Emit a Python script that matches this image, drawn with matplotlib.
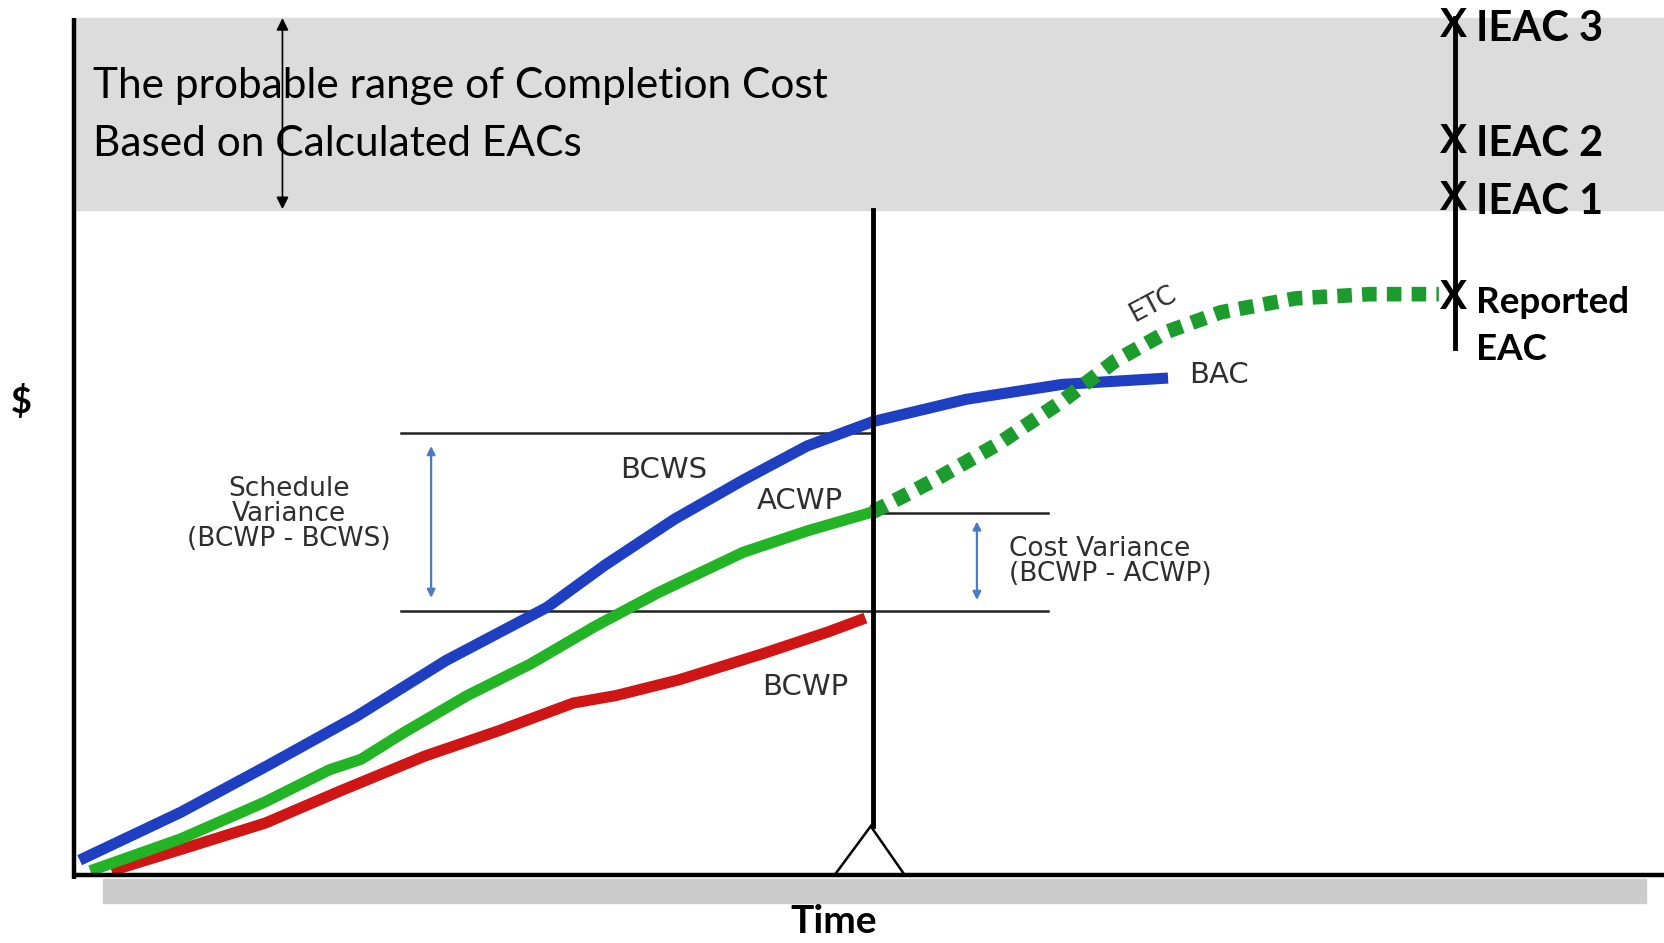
import matplotlib
matplotlib.use("Agg")
import matplotlib.pyplot as plt
from matplotlib.patches import Rectangle, Polygon

# time (x) / cost (y) units, origin at axis corner
bcws_t = [5, 100, 180, 265, 350, 445, 500, 565, 630, 690, 752, 840, 930, 1030]
bcws_c = [14, 59, 102, 149, 202, 252, 292, 335, 372, 404, 427, 448, 462, 468]

acwp_t = [15, 100, 180, 240, 270, 310, 370, 430, 490, 550, 630, 690, 752]
acwp_c = [4, 34, 69, 99, 109, 134, 169, 199, 234, 266, 304, 324, 342]

etc_t = [752, 810, 870, 930, 980, 1030, 1080, 1150, 1220, 1285]
etc_c = [342, 372, 406, 446, 484, 512, 530, 543, 547, 547]

bcwp_t = [35, 100, 180, 250, 330, 400, 470, 510, 570, 650, 710, 745]
bcwp_c = [4, 24, 49, 79, 112, 136, 162, 169, 184, 209, 229, 242]

status_t = 752
sv_hi, sv_lo, cv_hi = 416, 249, 341

eac_t = 1300
eac_labels = ["IEAC 3", "IEAC 2", "IEAC 1", "Reported\nEAC"]
eac_values = [800, 691, 637, 544]

band_lo, band_hi = 626, 807

BLUE = "#1f3fc2"
GREEN = "#22b425"
ETC_GREEN = "#1c9c2c"
RED = "#d01515"
ARROW = "#4a7cc4"
INK = "#2e2e2e"

fig = plt.figure(figsize=(16.65, 9.43), dpi=100)
ax = fig.add_axes([0, 0, 1, 1])
ax.set_xlim(-70, 1498)
ax.set_ylim(-64, 824)
ax.axis("off")

# gray range band + shadow under time axis
ax.add_patch(Rectangle((2, band_lo), 1496, band_hi - band_lo, color="#dcdcdc", zorder=0))
ax.add_patch(Rectangle((27, -26), 1453, 22, color="#cccccc", zorder=0))

# axes
ax.plot([0, 0], [band_hi, -4], color="black", lw=3.2, solid_capstyle="butt", zorder=5)
ax.plot([0, 1498], [0, 0], color="black", lw=3.2, solid_capstyle="butt", zorder=5)

# range double arrow
ax.annotate("", xy=(196, band_hi), xytext=(196, band_lo + 1),
            arrowprops=dict(arrowstyle="<|-|>", color="black", lw=1.2,
                            mutation_scale=18, shrinkA=0, shrinkB=0), zorder=6)
ax.text(18, 743, "The probable range of Completion Cost", fontsize=30.5, family="Lato",
        va="center", ha="left", color="black", zorder=6)
ax.text(18, 688, "Based on Calculated EACs", fontsize=30.5, family="Lato",
        va="center", ha="left", color="black", zorder=6)

# status date line + triangle
ax.plot([status_t, status_t], [band_lo, 46], color="black", lw=3.5, zorder=4)
ax.add_patch(Polygon([[716, 0], [status_t - 2, 46], [782, 0]], closed=False,
                     fill=False, edgecolor="black", lw=1.8, zorder=4))

# variance reference lines
ax.plot([308, status_t], [sv_hi, sv_hi], color="#222222", lw=1.8, zorder=1)
ax.plot([308, 917], [sv_lo, sv_lo], color="#222222", lw=1.8, zorder=1)
ax.plot([status_t, 917], [cv_hi, cv_hi], color="#222222", lw=1.8, zorder=1)

for t, c0, c1 in [(336, sv_hi - 12, sv_lo + 12), (850, cv_hi - 8, sv_lo + 10)]:
    ax.annotate("", xy=(t, c0), xytext=(t, c1),
                arrowprops=dict(arrowstyle="<|-|>", color=ARROW, lw=1.6,
                                mutation_scale=12, shrinkA=0, shrinkB=0), zorder=2)

# curves
ax.plot(bcwp_t, bcwp_c, color=RED, lw=8, solid_capstyle="butt", solid_joinstyle="round", zorder=3)
ax.plot(acwp_t, acwp_c, color=GREEN, lw=8, solid_capstyle="butt", solid_joinstyle="round", zorder=3)
ax.plot(bcws_t, bcws_c, color=BLUE, lw=8, solid_capstyle="butt", solid_joinstyle="round", zorder=3)
ax.plot(etc_t, etc_c, color=ETC_GREEN, lw=10.5, linestyle=(0, (1.0, 0.7)),
        dash_capstyle="butt", zorder=3)

# curve labels
lab = dict(family="DejaVu Sans", color=INK, ha="center", va="center")
ax.text(555, 381, "BCWS", fontsize=21, **lab)
ax.text(683, 352, "ACWP", fontsize=21, **lab)
ax.text(688, 177, "BCWP", fontsize=21, **lab)
ax.text(1078, 471, "BAC", fontsize=21, **lab)
ax.text(1016, 538, "ETC", fontsize=19, rotation=28, **lab)
ax.text(202, 340, "Schedule\nVariance\n(BCWP - BCWS)", fontsize=19,
        linespacing=0.95, **lab)
ax.text(880, 295, "Cost Variance\n(BCWP - ACWP)", fontsize=19, family="DejaVu Sans",
        color=INK, ha="left", va="center", linespacing=0.95)

# EAC scale
ax.plot([eac_t, eac_t], [band_hi, 496], color="black", lw=3.5, zorder=6)
for lbl, v in zip(eac_labels, eac_values):
    ax.text(eac_t - 1, v, "X", fontsize=29, family="Lato", weight="bold",
            ha="center", va="center", zorder=7)
    if "\n" in lbl:
        ax.text(eac_t + 20, v - 27, lbl, fontsize=26.5, family="Lato", weight="bold",
                ha="left", va="center", linespacing=1.5, zorder=7)
    else:
        ax.text(eac_t + 20, v - 3, lbl, fontsize=30, family="Lato", weight="bold",
                ha="left", va="center", zorder=7)

ax.text(-50, 446, "$", fontsize=26, family="Lato", weight="bold", ha="center", va="center")
ax.text(715, -44, "Time", fontsize=28, family="Lato", weight="bold", ha="center", va="center")

fig.savefig("out.png", dpi=100)
